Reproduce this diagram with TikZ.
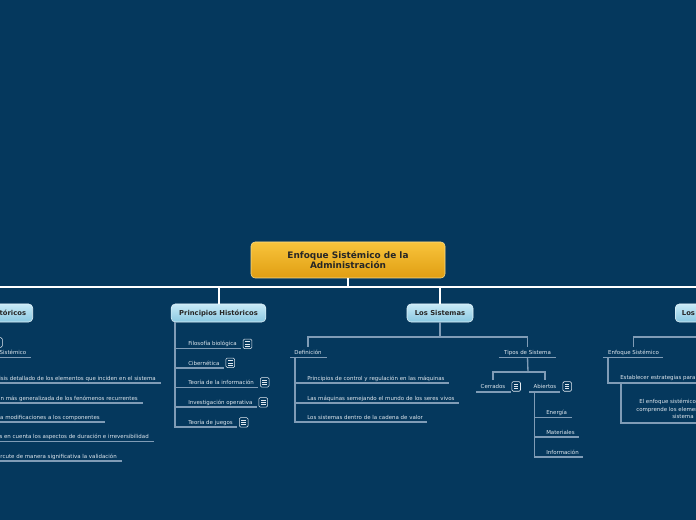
\documentclass[tikz,border=0pt]{standalone}
\usepackage{fontspec}
\setmainfont{DejaVu Sans}
\usetikzlibrary{positioning,calc}
\definecolor{sea}{RGB}{5,56,93}
\definecolor{gold}{RGB}{248,196,60}
\definecolor{goldlow}{RGB}{224,158,18}
\definecolor{sky}{RGB}{200,234,247}
\definecolor{skylow}{RGB}{138,200,225}
\definecolor{wire}{RGB}{128,156,182}
\definecolor{ink}{RGB}{224,232,239}

\begin{document}
\begin{tikzpicture}[x=0.75pt, y=-0.75pt, every node/.style={inner sep=0pt, text=ink, font=\fontsize{4.1}{4.8}\selectfont},
  root/.style={draw=gold!60!white, rounded corners=3pt, top color=gold, bottom color=goldlow, minimum width=145.5pt, minimum height=27pt, align=center, text=black!85, font=\fontsize{6.7}{8.2}\selectfont\bfseries},
  topic/.style={draw=sky!50!white, rounded corners=3pt, top color=sky, bottom color=skylow, minimum height=13.5pt, inner xsep=5pt, text=black!85, font=\fontsize{5.1}{6}\selectfont\bfseries},
  item/.style={anchor=base west},
  memo/.style={draw=ink!85, fill=sea, rounded corners=1pt, minimum width=6.5pt, minimum height=7.2pt, path picture={\foreach \k in {-1.6,0,1.6}{\draw[ink, line width=0.45pt] ([xshift=-1.7pt, yshift=\k pt]path picture bounding box.center) -- ++(3.4pt,0);}}},
  bus/.style={white, line width=1.5pt}, conn/.style={wire, line width=1pt}]
\useasboundingbox (0,0) rectangle (696,520);
\fill[sea] (0,0) rectangle (696,520);
\clip (0,0) rectangle (696,520);

% centre and main branches
\node[root] (root) at (348,260) {Enfoque Sistémico de la\\Administración};
\coordinate (busW) at (-5,287); \coordinate (busE) at (701,287);
\draw[bus] (busW) -- (busE); \draw[bus] (root.south) -- (root.south |- busW);
\node[topic, anchor=east] (hist) at (33,313) {Históricos};
\node[topic, minimum width=71pt] (ph) at (218.5,313) {Principios Históricos};
\node[topic, minimum width=49.5pt] (ls) at (440,313) {Los Sistemas};
\node[topic, anchor=west, text width=40pt, align=left] (rt) at (675,313) {Los};
\draw[bus] (ph.north) -- (ph.north |- busW); \draw[bus] (ls.north) -- (ls.north |- busW);

% left branch
\node[memo] (lfN) at (-2,342.5) {};
\node[item, anchor=base east] (lf0) at (26.5,354.5) {Sistémico};
\node[item, anchor=base east] (lf1) at (156,380) {isis detallado de los elementos que inciden en el sistema};
\node[item, anchor=base east] (lf2) at (138,400) {n más generalizada de los fenómenos recurrentes};
\node[item, anchor=base east] (lf3) at (100,419) {a modificaciones a los componentes};
\node[item, anchor=base east] (lf4) at (149,438.5) {s en cuenta los aspectos de duración e irreversibilidad};
\node[item, anchor=base east] (lf5) at (117,458) {ercute de manera significativa la validación};
\draw[conn] ($(lf0.base west)+(-10,3)$) -- ($(lf0.base east)+(4,3)$);
\draw[conn] ($(lf1.base west)+(-10,3)$) -- ($(lf1.base east)+(5,3)$);
\draw[conn] ($(lf2.base west)+(-10,3)$) -- ($(lf2.base east)+(5,3)$);
\draw[conn] ($(lf3.base west)+(-10,3)$) -- ($(lf3.base east)+(5,3)$);
\draw[conn] ($(lf4.base west)+(-10,3)$) -- ($(lf4.base east)+(5,3)$);
\draw[conn] ($(lf5.base west)+(-10,3)$) -- ($(lf5.base east)+(5,3)$);

% Principios Históricos
\node[item] (ph1) at (188,345.5) {Filosofía biológica};
\node[item] (ph2) at (188,365) {Cibernética};
\node[item] (ph3) at (188,384.5) {Teoría de la información};
\node[item] (ph4) at (188,404) {Investigación operativa};
\node[item] (ph5) at (188,424) {Teoría de juegos};
\node[memo, right=4.5pt of ph1] (ph1N) {}; \node[memo, right=4.5pt of ph2] (ph2N) {};
\node[memo, right=4.5pt of ph3] (ph3N) {}; \node[memo, right=4.5pt of ph4] (ph4N) {};
\node[memo, right=4.5pt of ph5] (ph5N) {};
\draw[conn] ($(ph.south west)+(4,0)$) |- ($(ph5.base east)+(4,3)$);
\draw[conn] ($(ph1.base west)+(-13,3)$) -- ($(ph1.base east)+(4,3)$);
\draw[conn] ($(ph2.base west)+(-13,3)$) -- ($(ph2.base east)+(4,3)$);
\draw[conn] ($(ph3.base west)+(-13,3)$) -- ($(ph3.base east)+(4,3)$);
\draw[conn] ($(ph4.base west)+(-13,3)$) -- ($(ph4.base east)+(4,3)$);

% Los Sistemas
\coordinate (lsBar) at (440,337);
\node[item, anchor=base] (def) at (308,354.5) {Definición};
\node[item, anchor=base] (tip) at (527.5,354.5) {Tipos de Sistema};
\draw[conn] (ls.south) -- (lsBar);
\draw[conn] ($(def.north)+(0,-3)$) |- (lsBar) -| ($(tip.north)+(0,-3)$);
\draw[conn] ($(def.base west)+(-4,3)$) -- ($(def.base east)+(5,3)$);
\node[item] (d1) at (307,380) {Principios de control y regulación en las máquinas};
\node[item] (d2) at (307,400) {Las máquinas semejando el mundo de los seres vivos};
\node[item] (d3) at (307,419) {Los sistemas dentro de la cadena de valor};
\draw[conn] ($(def.base west)+(1,3)$) |- ($(d3.base east)+(4,3)$);
\draw[conn] ($(d1.base west)+(-12,3)$) -- ($(d1.base east)+(4,3)$);
\draw[conn] ($(d2.base west)+(-12,3)$) -- ($(d2.base east)+(4,3)$);

\draw[conn] ($(tip.base west)+(-5,3)$) -- ($(tip.base east)+(5,3)$);
\coordinate (tipBar) at (528,372);
\node[item, anchor=base] (cer) at (493,388.5) {Cerrados};
\node[item, anchor=base] (abi) at (545,388.5) {Abiertos};
\node[memo, right=4.5pt of cer] (cerN) {}; \node[memo, right=4.5pt of abi] (abiN) {};
\draw[conn] ($(tip.base)+(0,3)$) -- (tipBar);
\draw[conn] ($(cer.north)+(0,-4)$) |- (tipBar) -| ($(abi.north)+(0,-4)$);
\draw[conn] ($(cer.base west)+(-4,3.5)$) -- ($(cer.base east)+(5,3.5)$);
\draw[conn] ($(abi.base west)+(-4,3.5)$) -- ($(abi.base east)+(3,3.5)$);
\node[item] (ab1) at (546,414.5) {Energía};
\node[item] (ab2) at (546,434) {Materiales};
\node[item] (ab3) at (546,454) {Información};
\draw[conn] ($(abi.base west)+(1,3.5)$) |- ($(ab3.base east)+(4,3)$);
\draw[conn] ($(ab1.base west)+(-12,3)$) -- ($(ab1.base east)+(5,3)$);
\draw[conn] ($(ab2.base west)+(-12,3)$) -- ($(ab2.base east)+(4,3)$);

% right branch
\coordinate (rtBar) at (701,337);
\node[item, anchor=base] (enf) at (633.5,354.5) {Enfoque Sistémico};
\draw[conn] ($(enf.north)+(0,-3)$) |- (rtBar);
\draw[conn] ($(enf.base west)+(-5,3)$) -- ($(enf.base east)+(4,3)$);
\node[item] (es) at (620,379.5) {Establecer estrategias para};
\coordinate (esEnd) at (701,383); \coordinate (efEnd) at (701,423);
\draw[conn] ($(enf.base west)+(0,3)$) |- (esEnd);
\node[item] (ef1) at (639,403.5) {El enfoque sistémico};
\node[item] (ef2) at (636,411) {comprende los elemen};
\node[item] (ef3) at (672,418.5) {sistema};
\draw[conn] ($(es.base west)+(1,3.5)$) |- (efEnd);
\end{tikzpicture}
\end{document}
